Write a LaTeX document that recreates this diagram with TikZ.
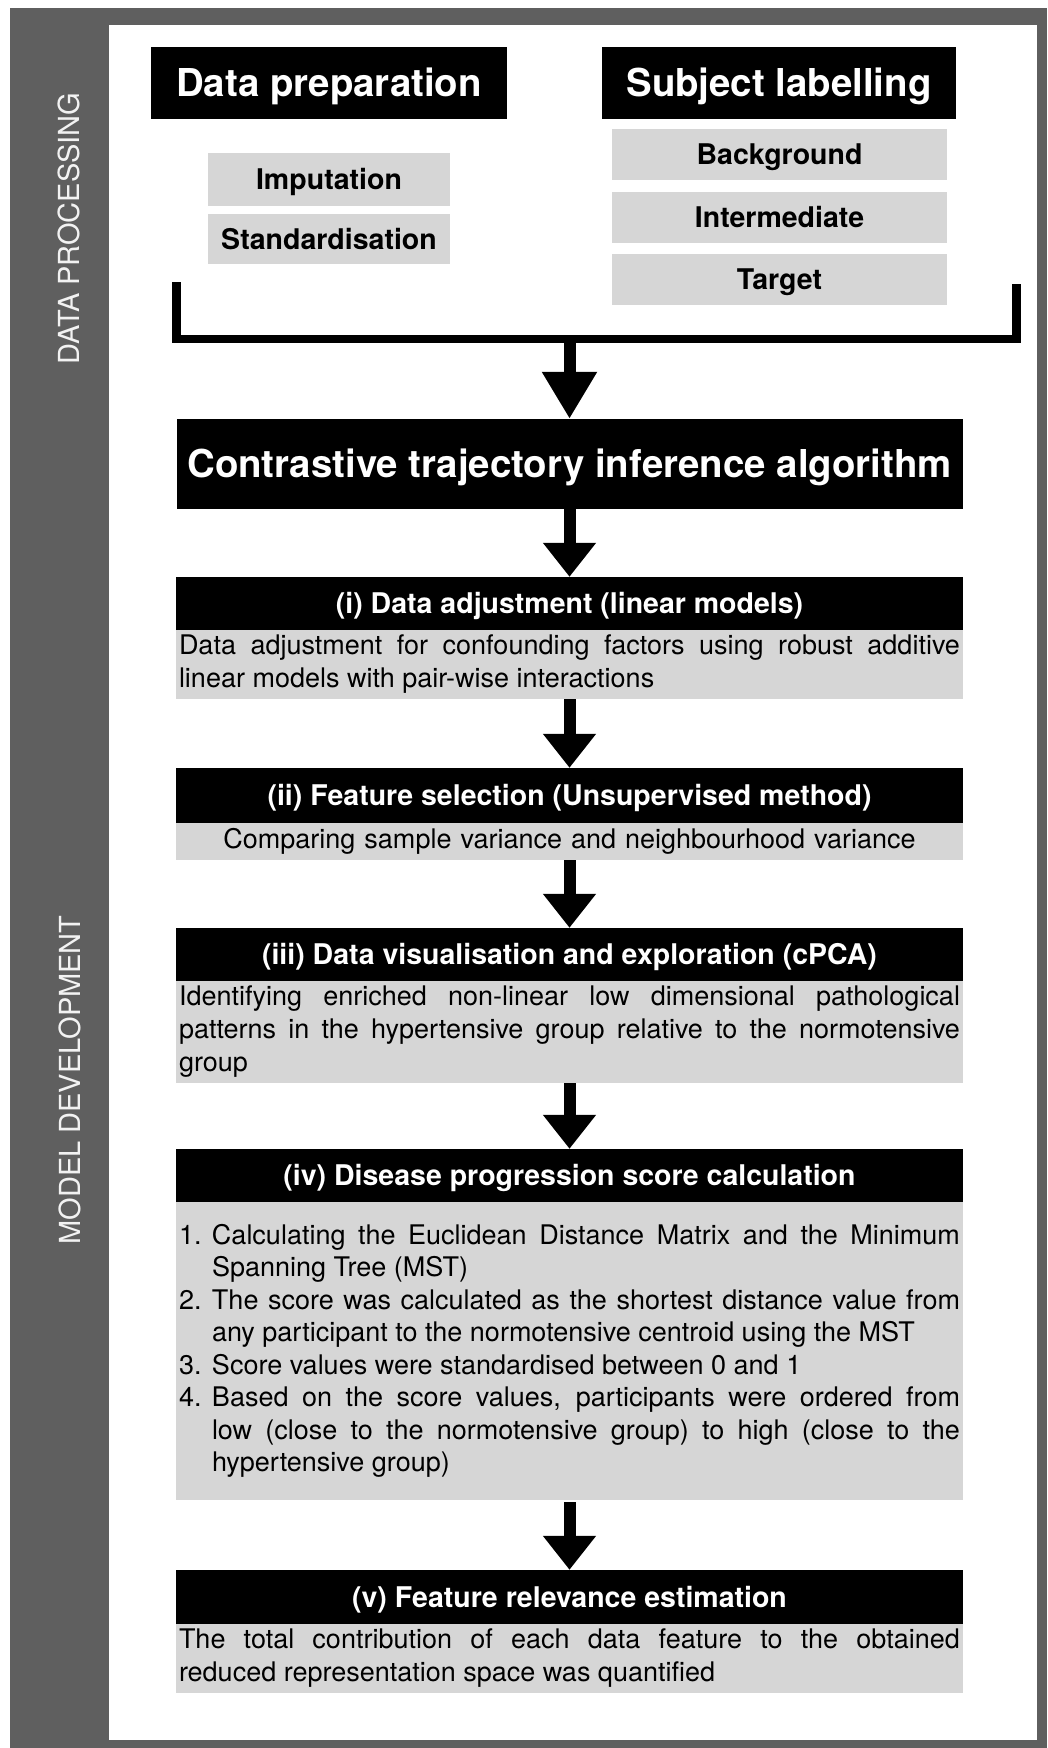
\documentclass[tikz,border=0pt]{standalone}
\usepackage{fontspec}
\setmainfont{TeX Gyre Heros}
\usetikzlibrary{arrows.meta}
\definecolor{framegray}{HTML}{5F5F5F}
\definecolor{boxgray}{HTML}{D6D6D6}
\definecolor{labelwhite}{HTML}{F2F2F2}
\hyphenpenalty=10000
\exhyphenpenalty=10000
\tolerance=9999
\emergencystretch=20pt
\begin{document}
\begin{tikzpicture}[x=1pt,y=-1pt,
  titlebox/.style={fill=black,text=white,inner sep=0pt,text height=27.6pt,text depth=0pt,
    font=\bfseries\fontsize{38.4}{44}\selectfont},
  subbox/.style={fill=boxgray,inner sep=0pt,text height=20.5pt,text depth=0pt,
    font=\bfseries\fontsize{28.5}{34}\selectfont},
  headbox/.style={fill=black,text=white,inner sep=0pt,minimum width=787pt,
    text height=20.5pt,text depth=0pt,
    font=\bfseries\fontsize{28.5}{34}\selectfont},
  bodybox/.style={fill=boxgray,inner xsep=3pt,inner ysep=0pt,
    text width=781pt,align=justify,font=\fontsize{27}{33}\selectfont},
  sidelabel/.style={rotate=90,text=labelwhite,inner sep=0pt,
    font=\fontsize{29}{34}\selectfont},
  flow/.style={line width=12pt,-{Triangle[width=51pt,length=34pt]}},
  bracket/.style={line width=8.5pt}
]
\useasboundingbox (0,0) rectangle (1047,1748);

% frame with the side band
\fill[framegray] (10,8) rectangle (1047,1748);
\fill[white] (109,25) rectangle (1037,1740);

\node[sidelabel] (labdp) at (69,228.5) {DATA PROCESSING};
\node[sidelabel] (labmd) at (70,1080) {MODEL DEVELOPMENT};

% data processing
\node[titlebox,minimum width=356pt,minimum height=72pt] (dprep) at (329,83) {Data preparation};
\node[titlebox,minimum width=354pt,minimum height=72pt] (slab) at (779,83) {Subject labelling};

\node[subbox,minimum width=242pt,minimum height=53pt] (imp) at (329,179.5) {Imputation};
\node[subbox,minimum width=242pt,minimum height=50pt] (std) at (329,239) {Standardisation};

\node[subbox,minimum width=335pt,minimum height=51pt] (bg) at (779.5,154.5) {Background};
\node[subbox,minimum width=335pt,minimum height=51pt] (inter) at (779.5,217.5) {Intermediate};
\node[subbox,minimum width=335pt,minimum height=51pt] (tgt) at (779.5,279.5) {Target};

% joining bracket
\coordinate (bl) at (176.5,282);
\coordinate (br) at (1016.5,284);
\coordinate (bj) at (569.5,339);
\draw[bracket] (bl) |- (bj) -| (br);

% model development
\node[titlebox,minimum width=786pt,minimum height=90pt] (cti) at (569.5,464)
  {Contrastive trajectory inference algorithm};

\node[headbox,minimum height=53pt] (h1) at (569.5,603.5) {(i) Data adjustment (linear models)};
\node[bodybox,minimum height=69pt] (b1) at (569.5,664.5)
  {Data adjustment for confounding factors using robust additive\linebreak
   linear models with pair-wise interactions\par};

\node[headbox,minimum height=55pt] (h2) at (569.5,795.5) {(ii) Feature selection (Unsupervised method)};
\node[bodybox,minimum height=37pt,align=center] (b2) at (569.5,841.5)
  {Comparing sample variance and neighbourhood variance};

\node[headbox,minimum height=53pt] (h3) at (569.5,954.5) {(iii) Data visualisation and exploration (cPCA)};
\node[bodybox,minimum height=102pt] (b3) at (569.5,1032)
  {Identifying enriched non-linear low dimensional pathological\linebreak
   patterns in the hypertensive group relative to the normotensive\linebreak
   group\par};

\node[headbox,minimum height=53pt] (h4) at (569.5,1175.5) {(iv) Disease progression score calculation};
\node[bodybox,minimum height=298pt,font=\fontsize{27}{32.5}\selectfont] (b4) at (569.5,1351)
  {\noindent\hangindent=33pt\hangafter=1\makebox[33pt][l]{1.}Calculating the Euclidean Distance Matrix and the Minimum\linebreak
   Spanning Tree (MST)\par
   \noindent\hangindent=33pt\hangafter=1\makebox[33pt][l]{2.}The score was calculated as the shortest distance value from\linebreak
   any participant to the normotensive centroid using the MST\par
   \noindent\hangindent=33pt\hangafter=1\makebox[33pt][l]{3.}Score values were standardised between 0 and 1\par
   \noindent\hangindent=33pt\hangafter=1\makebox[33pt][l]{4.}Based on the score values, participants were ordered from\linebreak
   low (close to the normotensive group) to high (close to the\linebreak
   hypertensive group)\par};

\node[headbox,minimum height=54pt] (h5) at (569.5,1597) {(v) Feature relevance estimation};
\node[bodybox,minimum height=69pt] (b5) at (569.5,1658.5)
  {The total contribution of each data feature to the obtained\linebreak
   reduced representation space was quantified\par};

% flow arrows
\draw[line width=12pt,-{Triangle[width=52pt,length=47pt]}] (bj) -- (cti.north);
\draw[flow] (cti.south) -- (h1.north);
\draw[flow] (b1.south) -- (h2.north);
\draw[flow] (b2.south) -- (h3.north);
\draw[flow] (b3.south) -- (h4.north);
\draw[flow] ([yshift=-2pt]b4.south) -- (h5.north);
\end{tikzpicture}
\end{document}
